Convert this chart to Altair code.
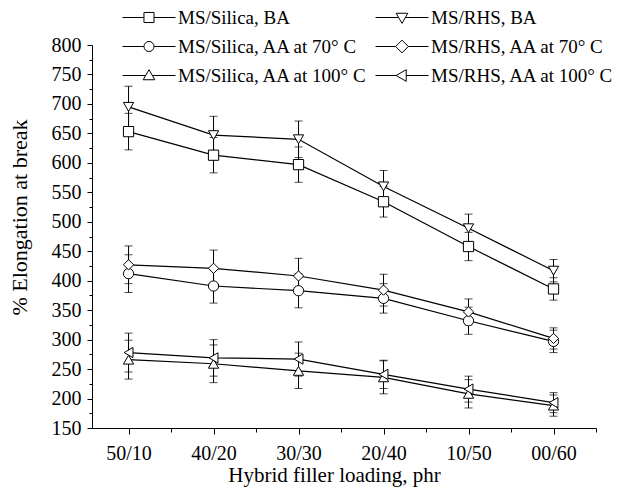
import json
import altair as alt
import pandas as pd

categories = ["50/10", "40/20", "30/30", "20/40", "10/50", "00/60"]
series_names = [
    "MS/Silica, BA",
    "MS/RHS, BA",
    "MS/Silica, AA at 70° C",
    "MS/RHS, AA at 70° C",
    "MS/Silica, AA at 100° C",
    "MS/RHS, AA at 100° C",
]
silica_ba = [653, 613, 597, 534, 458, 386]
rhs_ba = [695, 647, 640, 560, 489, 417]
silica_70 = [412, 391, 383, 370, 332, 297]
rhs_70 = [427, 421, 408, 384, 347, 302]
silica_100 = [266, 259, 247, 236, 208, 188]
rhs_100 = [278, 269, 267, 241, 216, 193]

err_silica_ba = [31, 30, 30, 26, 24, 19]
err_rhs_ba = [35, 32, 31, 27, 24, 19]
err_silica_70 = [32, 29, 29, 25, 23, 19]
err_rhs_70 = [32, 31, 30, 27, 22, 18]
err_silica_100 = [33, 32, 30, 28, 24, 18]
err_rhs_100 = [33, 31, 29, 24, 22, 17]

values = [silica_ba, rhs_ba, silica_70, rhs_70, silica_100, rhs_100]
errors = [err_silica_ba, err_rhs_ba, err_silica_70, err_rhs_70, err_silica_100, err_rhs_100]

marker_shapes = ["square", "triangle-down", "circle", "diamond", "triangle-up", "triangle-left"]
legend_paths = [
    "M-1,0H-0.19M0.19,0H1M-0.19,-0.19H0.19V0.19H-0.19Z",
    "M-1,0H-0.127M0.127,0H1M-0.22,-0.16H0.22L0,0.22Z",
    "M-1,0H-0.19M0.19,0H1M-0.19,0A0.19,0.19,0,1,1,0.19,0A0.19,0.19,0,1,1,-0.19,0Z",
    "M-1,0H-0.24M0.24,0H1M-0.24,0L0,-0.24L0.24,0L0,0.24Z",
    "M-1,0H-0.127M0.127,0H1M-0.22,0.16H0.22L0,-0.22Z",
    "M-1,0H-0.22M0.16,0H1M-0.22,0L0.16,-0.22V0.22Z",
]

rows = []
for name, vals, errs in zip(series_names, values, errors):
    for i, (v, e) in enumerate(zip(vals, errs)):
        rows.append({"series": name, "pos": i + 1, "val": v, "lo": v - e, "hi": v + e})
df = pd.DataFrame(rows)

FONT = "Liberation Serif"

x_ticks = [v / 2 for v in range(2, 14)]
x_axis = alt.Axis(
    values=x_ticks,
    labelExpr="datum.value % 1 == 0 ? " + json.dumps(categories) + "[datum.value - 1] : ''",
    tickSize={"condition": {"test": "datum.value % 1 == 0", "value": 6}, "value": 4},
    labelPadding=9,
    labelFlush=False,
    labelOverlap=False,
    labelFontSize=20,
    labelFont=FONT,
    labelColor="black",
    title="Hybrid filler loading, phr",
    titleFont=FONT,
    titleFontWeight="normal",
    titleColor="black",
    titleFontSize=21,
    titleX=242,
    titleY=47,
    titleBaseline="middle",
    titleAlign="center",
    grid=False,
    domainColor="black",
    tickColor="black",
)
y_axis = alt.Axis(
    values=list(range(150, 801, 25)),
    labelExpr="datum.value % 50 == 0 ? datum.label : ''",
    tickSize={"condition": {"test": "datum.value % 50 == 0", "value": 5}, "value": 3},
    labelPadding=6,
    labelFontSize=20,
    labelFont=FONT,
    labelColor="black",
    labelOverlap=False,
    labelFlush=False,
    title="% Elongation at break",
    titleFont=FONT,
    titleFontWeight="normal",
    titleColor="black",
    titleFontSize=22,
    titleX=-73,
    titleY=172,
    titleAngle=270,
    titleBaseline="middle",
    titleAlign="center",
    grid=False,
    domainColor="black",
    tickColor="black",
)

x_scale = alt.Scale(domain=[0.57, 6.5], nice=False, zero=False)
y_scale = alt.Scale(domain=[150, 800], nice=False, zero=False)


def X():
    return alt.X("pos:Q", scale=x_scale, axis=x_axis)


def Y(field):
    return alt.Y(field, scale=y_scale, axis=y_axis)


base = alt.Chart(df)

err_rule = base.mark_rule(color="black", strokeWidth=1).encode(
    x=X(), y=Y("lo:Q"), y2="hi:Q", detail="series:N"
)
err_lo = base.mark_tick(color="black", orient="horizontal", size=8, thickness=1).encode(
    x=X(), y=Y("lo:Q"), detail="series:N"
)
err_hi = base.mark_tick(color="black", orient="horizontal", size=8, thickness=1).encode(
    x=X(), y=Y("hi:Q"), detail="series:N"
)
lines = base.mark_line(color="black", strokeWidth=1.2).encode(
    x=X(), y=Y("val:Q"), detail="series:N"
)
points = base.mark_point(filled=True, fill="white", stroke="black", strokeWidth=1, size=105, opacity=1).encode(
    x=X(),
    y=Y("val:Q"),
    shape=alt.Shape("series:N", scale=alt.Scale(domain=series_names, range=marker_shapes), legend=None),
)
legend_layer = base.mark_point(opacity=0, size=2809).encode(
    x=X(),
    y=Y("val:Q"),
    shape=alt.Shape(
        "series:N",
        scale=alt.Scale(domain=series_names, range=legend_paths),
        legend=alt.Legend(
            title=None,
            orient="none",
            direction="horizontal",
            legendX=30,
            legendY=-42,
            columns=2,
            symbolSize=2809,
            symbolStrokeColor="black",
            symbolFillColor="white",
            symbolOpacity=1,
            symbolStrokeWidth=1,
            labelFont=FONT,
            labelFontSize=19,
            labelColor="black",
            labelLimit=400,
            labelOffset=2,
            clipHeight=29,
            rowPadding=0,
            columnPadding=7,
            padding=0,
        ),
    ),
)

chart = (
    alt.layer(err_rule, err_lo, err_hi, lines, points, legend_layer)
    .resolve_scale(shape="independent")
    .resolve_legend(shape="independent")
    .properties(
        width=504,
        height=383,
        background="white",
        autosize=alt.AutoSizeParams(type="none"),
        padding={"left": 84, "top": 37, "right": 18, "bottom": 60},
    )
    .configure_view(stroke=None)
    .configure_axis(
        domainColor="black",
        domainWidth=1,
        tickColor="black",
        tickWidth=1,
        labelColor="black",
        titleColor="black",
        labelFont=FONT,
        titleFont=FONT,
        titleFontWeight="normal",
    )
)

chart.save("out.html", embed_options={"renderer": "svg", "actions": False})
